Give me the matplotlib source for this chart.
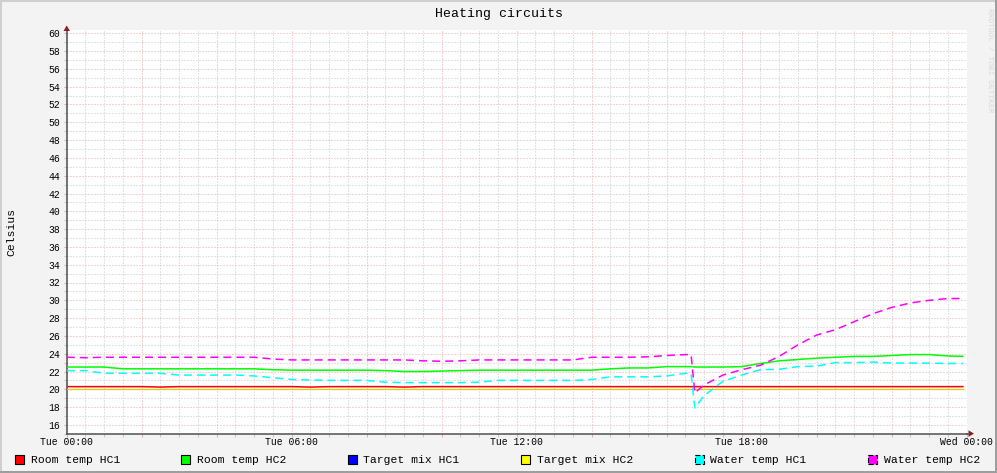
import matplotlib
matplotlib.use("Agg")
import matplotlib.pyplot as plt
import numpy as np
from matplotlib.patches import Rectangle, Polygon
from matplotlib.transforms import blended_transform_factory

plt.rcParams['font.family'] = ['Liberation Mono', 'DejaVu Sans Mono']
plt.rcParams['lines.scale_dashes'] = False

# ---------------- data ----------------
title = "Heating circuits"
y_label = "Celsius"
hours = [0, 0.5, 1, 1.5, 2, 2.5, 3, 3.5, 4, 4.5, 5, 5.5, 6, 6.5, 7, 7.5, 8, 8.5,
         9, 9.5, 10, 10.5, 11, 11.5, 12, 12.5, 13, 13.5, 14, 14.5, 15, 15.5, 16,
         16.5, 16.65, 16.75, 17, 17.5, 18, 18.5, 19, 19.5, 20, 20.5, 21, 21.5,
         22, 22.5, 23, 23.5, 23.9]

room_hc1 = [20.3, 20.3, 20.3, 20.3, 20.3, 20.25, 20.3, 20.3, 20.3, 20.3, 20.3,
            20.3, 20.3, 20.25, 20.3, 20.3, 20.3, 20.3, 20.25, 20.3, 20.3, 20.3,
            20.3, 20.3, 20.3, 20.3, 20.3, 20.3, 20.3, 20.3, 20.3, 20.3, 20.3,
            20.3, 20.3, 20.3, 20.3, 20.3, 20.3, 20.3, 20.3, 20.3, 20.3, 20.3,
            20.3, 20.3, 20.3, 20.3, 20.3, 20.3, 20.3]

room_hc2 = [22.5, 22.5, 22.5, 22.3, 22.3, 22.3, 22.3, 22.3, 22.3, 22.3, 22.3,
            22.2, 22.15, 22.15, 22.15, 22.15, 22.15, 22.1, 22.0, 22.0, 22.05,
            22.1, 22.15, 22.15, 22.15, 22.15, 22.15, 22.15, 22.15, 22.3, 22.4,
            22.4, 22.55, 22.55, 22.55, 22.5, 22.5, 22.5, 22.55, 22.9, 23.2,
            23.35, 23.5, 23.6, 23.7, 23.7, 23.8, 23.9, 23.9, 23.75, 23.7]

target_mix_hc1 = []  # not visible in the chart

target_mix_hc2 = [20.0] * 51

water_hc1 = [22.1, 22.1, 21.8, 21.8, 21.8, 21.8, 21.6, 21.6, 21.6, 21.6, 21.5,
             21.3, 21.1, 21.05, 21.0, 21.0, 21.0, 20.8, 20.75, 20.75, 20.75,
             20.75, 20.8, 21.0, 21.0, 21.0, 21.0, 21.0, 21.1, 21.4, 21.4, 21.4,
             21.5, 21.8, 21.8, 17.9, 19.3, 20.9, 21.6, 22.2, 22.25, 22.55, 22.6,
             23.0, 23.0, 23.05, 22.95, 22.95, 22.95, 22.9, 22.9]

water_hc2 = [23.6, 23.55, 23.6, 23.6, 23.6, 23.6, 23.6, 23.6, 23.6, 23.6, 23.6,
             23.4, 23.3, 23.3, 23.3, 23.3, 23.3, 23.3, 23.3, 23.2, 23.15, 23.2,
             23.3, 23.3, 23.3, 23.3, 23.3, 23.3, 23.6, 23.6, 23.6, 23.65, 23.8,
             23.9, 23.9, 19.6, 20.5, 21.6, 22.2, 22.7, 23.7, 25.0, 26.1, 26.7,
             27.6, 28.5, 29.2, 29.7, 30.0, 30.2, 30.2]

series_names = ["Room temp HC1", "Room temp HC2", "Target mix HC1",
                "Target mix HC2", "Water temp HC1", "Water temp HC2"]
series_colors = ["#FF0000", "#00FF00", "#0000FF", "#FFFF00", "#00FFFF", "#FF00FF"]

x_tick_hours = [0, 6, 12, 18, 24]
x_tick_labels = ["Tue 00:00", "Tue 06:00", "Tue 12:00", "Tue 18:00", "Wed 00:00"]
y_ticks = list(range(16, 61, 2))

# ---------------- layout ----------------
W, H = 997, 473
fig = plt.figure(figsize=(W / 100, H / 100), dpi=100, facecolor="#F3F3F3")

def fx(px):
    return px / W

def fy(py):
    return 1 - py / H

ax_left, ax_right, ax_top, ax_bottom = 66.7, 966.7, 30.3, 433.8
px_per_unit = 8.9
ax = fig.add_axes([fx(ax_left), fy(ax_bottom), (ax_right - ax_left) / W,
                   (ax_bottom - ax_top) / H])
ax.set_facecolor("white")
ax.set_xlim(0, 24)
ax.set_ylim(15, 15 + (ax_bottom - ax_top) / px_per_unit)

ax.set_xticks(np.arange(0, 24.01, 2))
ax.set_xticks(np.arange(0, 24.01, 0.5), minor=True)
ax.set_yticks(y_ticks)
ax.set_yticks(np.arange(15, 61, 1), minor=True)
ax.set_xticklabels([])
ax.set_yticklabels([str(v) for v in y_ticks])

dot = (0, (0.72, 1.44))
ax.grid(which="major", color="#E6ACAC", linestyle=dot, linewidth=0.75)
ax.grid(which="minor", color="#C8C8C8", linestyle=dot, linewidth=0.75)
ax.set_axisbelow(True)

ax.tick_params(which="major", length=2.2, width=0.8, color="#E6AFAF",
               labelsize=7, pad=2.6)
ax.tick_params(which="minor", length=2.2, width=0.8, color="#C8C8C8")
ax.tick_params(axis="y", labelsize=7)

for s in ["top", "right"]:
    ax.spines[s].set_visible(False)
for s in ["left", "bottom"]:
    ax.spines[s].set_color("#505050")
    ax.spines[s].set_linewidth(1.1)

lw = 1.1
ax.plot(hours, room_hc1, color=series_colors[0], lw=lw, zorder=5)
ax.plot(hours, room_hc2, color=series_colors[1], lw=lw, zorder=5)
if target_mix_hc1:
    ax.plot(hours[:len(target_mix_hc1)], target_mix_hc1, color=series_colors[2], lw=lw, zorder=4)
ax.plot(hours, target_mix_hc2, color="#F0C800", lw=0.9, zorder=4)
ax.plot(hours, water_hc1, color=series_colors[4], lw=lw, zorder=5,
        linestyle=(0, (5.8, 3.6)))
ax.plot(hours, water_hc2, color=series_colors[5], lw=lw, zorder=5,
        linestyle=(0, (5.8, 3.6)))

# x tick labels
tr = blended_transform_factory(ax.transData, fig.transFigure)
for h, lab in zip(x_tick_hours, x_tick_labels):
    ax.text(h, fy(441.5), lab, transform=tr, ha="center", va="center",
            fontsize=7, clip_on=False)

# title, y label, watermark
fig.text(0.5, fy(14), title, ha="center", va="center", fontsize=9.5)
fig.text(fx(11), fy(232), y_label, ha="center", va="center", rotation=90,
         fontsize=8.2)
fig.text(fx(989), fy(60), "RRDTOOL / TOBI OETIKER", ha="center", va="center",
         rotation=270, fontsize=5.8, color="#D8D8D8")

# axis arrows
arrow_col = "#8B2020"
fig.add_artist(Polygon([[fx(63.5), fy(31)], [fx(70), fy(31)], [fx(66.7), fy(25.5)]],
                       closed=True, transform=fig.transFigure, color=arrow_col, lw=0))
fig.add_artist(plt.Line2D([fx(966.7), fx(969)], [fy(433.6), fy(433.6)],
                          transform=fig.transFigure, color="#505050", lw=1.1))
fig.add_artist(Polygon([[fx(968.5), fy(430.3)], [fx(968.5), fy(436.9)], [fx(974), fy(433.6)]],
                       closed=True, transform=fig.transFigure, color=arrow_col, lw=0))

# legend
legend_sq_x = [15, 181, 348, 521, 695, 868]
legend_txt_x = [31, 197, 363, 537, 710, 884]
for name, col, sx, tx, i in zip(series_names, series_colors, legend_sq_x,
                                legend_txt_x, range(6)):
    ls = "--" if i >= 4 else "-"
    fig.add_artist(Rectangle((fx(sx), fy(463.7)), 9 / W, 9 / H,
                             transform=fig.transFigure, facecolor=col,
                             edgecolor="black", lw=0.8, linestyle=ls))
    fig.text(fx(tx), fy(459.5), name, ha="left", va="center", fontsize=8.2)

# 3D frame
fig.add_artist(Rectangle((0, fy(2)), 1, 2 / H, transform=fig.transFigure,
                         color="#CFCFCF", lw=0))
fig.add_artist(Rectangle((0, 0), 2 / W, 1, transform=fig.transFigure,
                         color="#CFCFCF", lw=0))
fig.add_artist(Rectangle((0, 0), 1, 2 / H, transform=fig.transFigure,
                         color="#9E9E9E", lw=0))
fig.add_artist(Rectangle((fx(995), 0), 2 / W, 1, transform=fig.transFigure,
                         color="#9E9E9E", lw=0))

fig.savefig("out.png", dpi=100, facecolor=fig.get_facecolor())
